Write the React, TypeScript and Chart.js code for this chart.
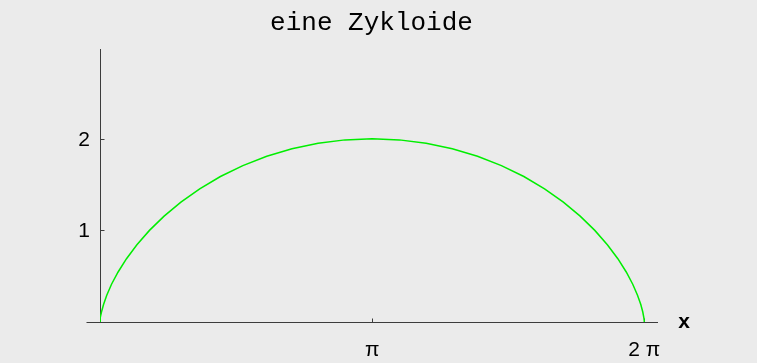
import { useEffect, useRef } from "react";
import { Chart, registerables } from "chart.js";

Chart.register(...registerables);

// Cycloid x = t - sin t, y = 1 - cos t, sampled at t = k·π/20
const curveX = [
  0, 0.001, 0.005, 0.017, 0.041, 0.078, 0.133, 0.209, 0.306, 0.426,
  0.571, 0.740, 0.934, 1.151, 1.390, 1.649, 1.925, 2.216, 2.518, 2.828,
  3.142, 3.455, 3.765, 4.067, 4.358, 4.634, 4.893, 5.132, 5.349, 5.543,
  5.712, 5.857, 5.978, 6.075, 6.150, 6.205, 6.243, 6.266, 6.278, 6.283,
  6.283,
];
const curveY = [
  0, 0.012, 0.049, 0.109, 0.191, 0.293, 0.412, 0.546, 0.691, 0.844,
  1.0, 1.156, 1.309, 1.454, 1.588, 1.707, 1.809, 1.891, 1.951, 1.988,
  2.0, 1.988, 1.951, 1.891, 1.809, 1.707, 1.588, 1.454, 1.309, 1.156,
  1.0, 0.844, 0.691, 0.546, 0.412, 0.293, 0.191, 0.109, 0.049, 0.012,
  0,
];

const titleText = "eine Zykloide";
const xAxisLabel = "x";
const xTickValues = [Math.PI, 2 * Math.PI];
const xTickLabels = ["π", "2 π"];
const yTickValues = [1, 2];
const yTickLabels = ["1", "2"];
const xRange = [0, 6.43];
const yRange = [0, 2.98];

const BG = "#ebebeb";
const AXIS = "#3c3c3c";
const CURVE = "#00ee00";
const SANS = '"Liberation Sans", Arial, Helvetica, sans-serif';
const MONO = '"Courier New", "Liberation Mono", monospace';

// Inward tick marks, the short stub of the x axis left of the origin,
// the y tick labels (they sit outside the narrow y scale box) and the
// "x" axis caption
const axisDecor = {
  id: "axisDecor",
  beforeDatasetsDraw(chart: any) {
    const { ctx, scales } = chart;
    const xs = scales.x;
    const ys = scales.y;
    const x0 = Math.round(xs.getPixelForValue(0)) + 0.5;
    const y0 = Math.round(ys.getPixelForValue(0)) + 0.5;
    ctx.save();
    ctx.strokeStyle = AXIS;
    ctx.lineWidth = 1;
    ctx.beginPath();
    ctx.moveTo(x0 - 14, y0);
    ctx.lineTo(x0, y0);
    xTickValues.forEach((v) => {
      const px = Math.round(xs.getPixelForValue(v)) + 0.5;
      ctx.moveTo(px, y0);
      ctx.lineTo(px, y0 - 4);
    });
    yTickValues.forEach((v) => {
      const py = Math.round(ys.getPixelForValue(v)) + 0.5;
      ctx.moveTo(x0, py);
      ctx.lineTo(x0 + 4, py);
    });
    ctx.stroke();
    ctx.restore();
  },
  afterDraw(chart: any) {
    const { ctx, scales } = chart;
    const xs = scales.x;
    const ys = scales.y;
    const x0 = xs.getPixelForValue(0);
    const y0 = ys.getPixelForValue(0);
    ctx.save();
    ctx.fillStyle = "#000";
    ctx.font = `21px ${SANS}`;
    ctx.textAlign = "right";
    ctx.textBaseline = "middle";
    yTickValues.forEach((v, i) => {
      ctx.fillText(yTickLabels[i], x0 - 10, ys.getPixelForValue(v) + 1);
    });
    ctx.font = `bold 21px ${SANS}`;
    ctx.textAlign = "center";
    ctx.fillText(xAxisLabel, xs.right + 27, y0);
    ctx.restore();
  },
};

export default function App() {
  const canvasRef = useRef<HTMLCanvasElement | null>(null);

  useEffect(() => {
    document.body.style.margin = "0";
    document.body.style.background = BG;
    const canvas = canvasRef.current;
    if (!canvas) return;

    const points = curveX.map((x, i) => ({ x, y: curveY[i] }));

    const chart = new Chart(canvas, {
      type: "scatter",
      data: {
        datasets: [
          {
            data: points,
            showLine: true,
            borderColor: CURVE,
            borderWidth: 1.5,
            pointRadius: 0,
            tension: 0,
            fill: false,
          },
        ],
      },
      options: {
        responsive: false,
        animation: false,
        layout: { padding: { left: 86, right: 100, top: 0, bottom: 0 } },
        plugins: {
          legend: { display: false },
          tooltip: { enabled: false },
          title: {
            display: true,
            text: titleText,
            color: "#000",
            font: { family: MONO, size: 26, weight: "normal", lineHeight: 1.2 },
            padding: { top: 8, bottom: 9.8 },
          },
        },
        scales: {
          x: {
            type: "linear",
            position: "bottom",
            min: xRange[0],
            max: xRange[1],
            afterBuildTicks: (s: any) => {
              s.ticks = xTickValues.map((v) => ({ value: v }));
            },
            afterFit: (s: any) => {
              s.height = 41;
            },
            ticks: {
              autoSkip: false,
              maxRotation: 0,
              padding: 16,
              color: "#000",
              font: { family: SANS, size: 21 },
              callback: (v: any) => xTickLabels[xTickValues.indexOf(v)] ?? "",
            },
            grid: { display: false, drawTicks: false },
            border: { display: true, color: AXIS, width: 1 },
          },
          y: {
            type: "linear",
            position: "left",
            min: yRange[0],
            max: yRange[1],
            afterBuildTicks: (s: any) => {
              s.ticks = yTickValues.map((v) => ({ value: v }));
            },
            afterFit: (s: any) => {
              s.width = 14;
            },
            ticks: { display: false },
            grid: { display: false, drawTicks: false },
            border: { display: true, color: AXIS, width: 1 },
          },
        },
      },
      plugins: [axisDecor],
    });

    return () => chart.destroy();
  }, []);

  return (
    <div style={{ width: 757, height: 363, background: BG }}>
      <canvas ref={canvasRef} width={757} height={363} style={{ display: "block" }} />
    </div>
  );
}
